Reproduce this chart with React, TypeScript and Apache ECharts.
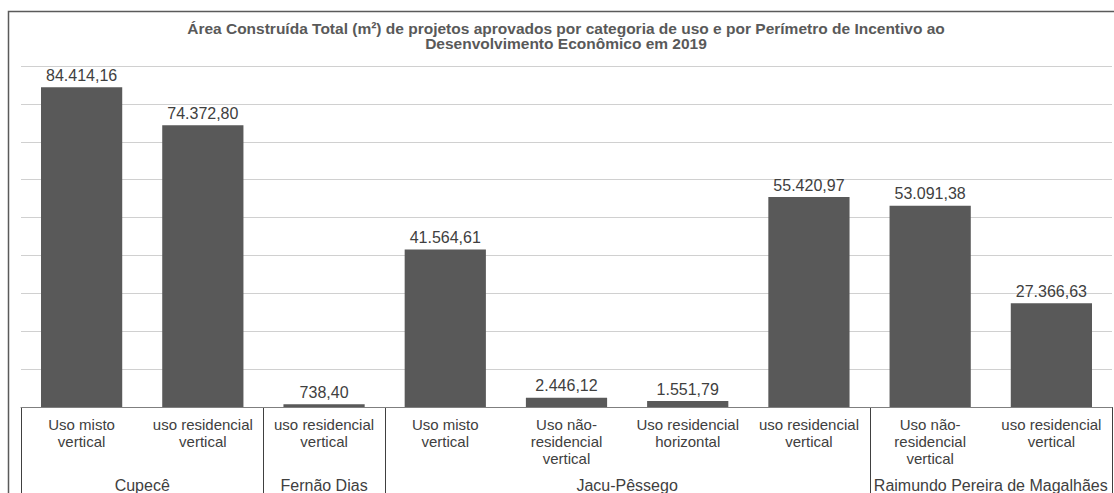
import React, { useEffect, useRef } from "react";
import * as echarts from "echarts";

const categories = [
  "Uso misto\nvertical",
  "uso residencial\nvertical",
  "uso residencial\nvertical",
  "Uso misto\nvertical",
  "Uso não-\nresidencial\nvertical",
  "Uso residencial\nhorizontal",
  "uso residencial\nvertical",
  "Uso não-\nresidencial\nvertical",
  "uso residencial\nvertical",
];
const values = [84414.16, 74372.8, 738.4, 41564.61, 2446.12, 1551.79, 55420.97, 53091.38, 27366.63];
const groupNames = ["Cupecê", "Fernão Dias", "Jacu-Pêssego", "Raimundo Pereira de Magalhães"];
const groupSizes = [2, 1, 4, 2];
const titleText =
  "Área Construída Total (m²) de projetos aprovados por categoria de uso e por Perímetro de Incentivo ao\nDesenvolvimento Econômico em 2019";

const FONT = "'Liberation Sans', Arial, sans-serif";

function fmt(v: number): string {
  const fixed = v.toFixed(2);
  const [intPart, dec] = fixed.split(".");
  const withDots = intPart.replace(/\B(?=(\d{3})+(?!\d))/g, ".");
  return withDots + "," + dec;
}

export default function App() {
  const ref = useRef<HTMLDivElement>(null);
  useEffect(() => {
    if (!ref.current) return;
    const chart = echarts.init(ref.current, undefined, { renderer: "svg" });
    const gridLeft = 21;
    const gridRight = 2;
    const gridTop = 66;
    const gridBottom = 86;
    chart.setOption({
      animation: false,
      backgroundColor: "#ffffff",
      title: {
        text: titleText,
        left: 566,
        top: 21,
        padding: 0,
        textAlign: "center",
        textStyle: {
          fontFamily: FONT,
          fontSize: 15.5,
          fontWeight: "bold",
          color: "#595959",
          lineHeight: 15,
        },
      },
      grid: { left: gridLeft, right: gridRight, top: gridTop, bottom: gridBottom },
      xAxis: {
        type: "category",
        data: categories,
        axisLine: { show: true, lineStyle: { color: "#7f7f7f", width: 1 } },
        axisTick: { show: false },
        axisLabel: {
          interval: 0,
          margin: 9,
          fontFamily: FONT,
          fontSize: 15,
          lineHeight: 17,
          color: "#404040",
        },
      },
      yAxis: {
        type: "value",
        min: 0,
        max: 90000,
        interval: 10000,
        axisLabel: { show: false },
        axisLine: { show: false },
        axisTick: { show: false },
        splitLine: { show: true, lineStyle: { color: "#d0d0d0", width: 1 } },
      },
      series: [
        {
          type: "bar",
          data: values,
          barCategoryGap: "33%",
          itemStyle: { color: "#595959" },
          label: {
            show: true,
            position: "top",
            distance: 4,
            fontFamily: FONT,
            fontSize: 16,
            color: "#404040",
            formatter: (p: any) => fmt(p.value),
          },
        },
      ],
    });

    const width = ref.current.clientWidth;
    const height = ref.current.clientHeight;
    const plotW = width - gridLeft - gridRight;
    const band = plotW / categories.length;
    const baseY = height - gridBottom;
    const graphics: any[] = [
      {
        type: "rect",
        shape: { x: 8.5, y: 11.5, width: 1300, height: 700 },
        style: { fill: "none", stroke: "#5a5a5a", lineWidth: 1.5 },
        silent: true,
      },
    ];
    let start = 0;
    const boundaries: number[] = [];
    const firstCenter = chart.convertToPixel({ xAxisIndex: 0 }, 0) as number;
    const leftEdge = firstCenter - band / 2;
    boundaries.push(leftEdge);
    groupSizes.forEach((size, gi) => {
      const l = leftEdge + start * band;
      const r = leftEdge + (start + size) * band;
      boundaries.push(r);
      graphics.push({
        type: "text",
        x: (l + r) / 2,
        y: 485,
        style: {
          text: groupNames[gi],
          fontFamily: FONT,
          fontSize: 16,
          fill: "#404040",
          align: "center",
          verticalAlign: "middle",
        },
        silent: true,
      });
      start += size;
    });
    boundaries.forEach((b) => {
      const x = Math.round(b) + 0.5;
      graphics.push({
        type: "line",
        shape: { x1: x, y1: baseY, x2: x, y2: height },
        style: { stroke: "#404040", lineWidth: 1 },
        silent: true,
      });
    });
    chart.setOption({ graphic: graphics });
    return () => chart.dispose();
  }, []);
  return (
    <div
      ref={ref}
      style={{ position: "absolute", left: 0, top: 0, width: 1114, height: 493 }}
    />
  );
}
